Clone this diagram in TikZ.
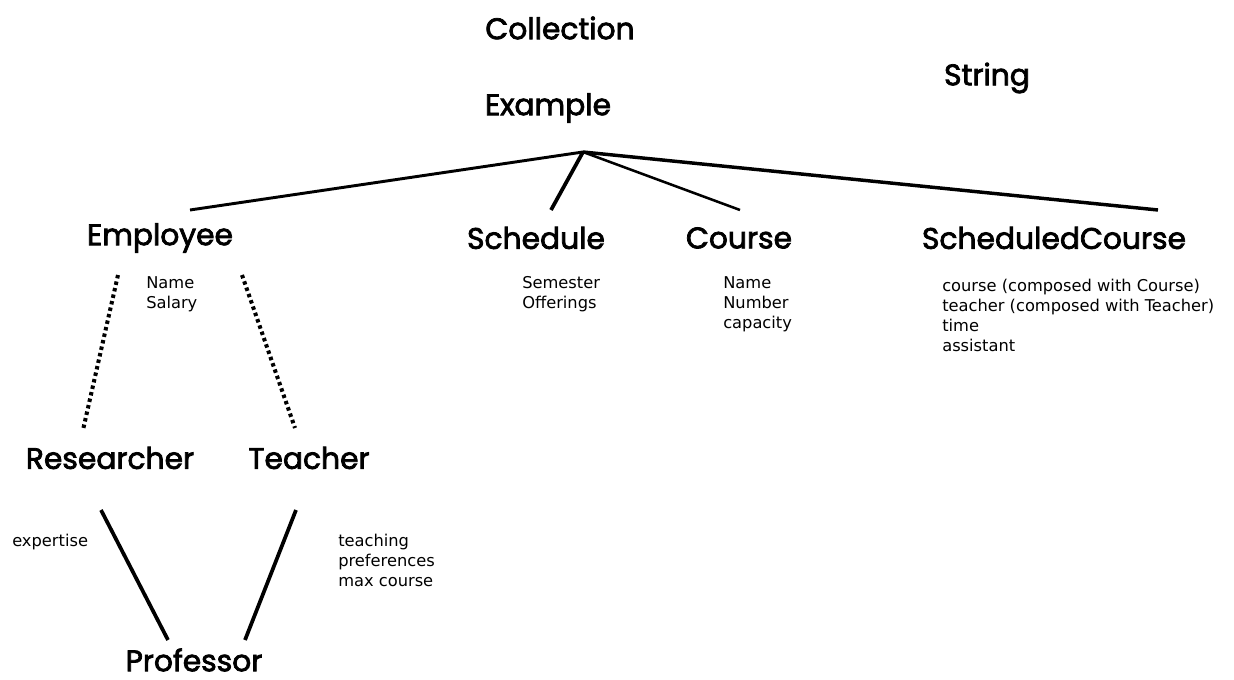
\documentclass[tikz,border=0pt]{standalone}
\usepackage{fontspec}
\setmainfont{DejaVu Sans}
\newfontfamily\headfont{Poppins}[FakeBold=2.5]
\usepackage{tikz}
\usetikzlibrary{positioning, calc}
\tikzset{
    classname/.style={
        inner sep=0pt,
        font=\headfont\fontsize{22.3}{26}\selectfont
    },
    attrs/.style={
        anchor=north west,
        inner sep=0pt,
        align=left,
        font=\fontsize{12.2}{15}\selectfont
    },
    link/.style={
        draw=black,
        line width=2.2pt
    },
    sublink/.style={
        draw=black,
        line width=3pt,
        dash pattern=on 2.6pt off 2.4pt
    },
    multilink/.style={
        draw=black,
        line width=2.8pt
    }
}
\begin{document}
\begin{tikzpicture}[x=0.75pt,y=-0.75pt]

% Frame
\path[use as bounding box, fill=white] (0,0) rectangle (1234,680);

% Top level
\node[classname] (collection) at (560,28) {Collection};
\node[classname] (string) at (987,78) {String};
\node[classname] (example) at (548,108) {Example};

% Classes of Example
\node[classname] (employee) at (160,238) {Employee};
\node[classname] (schedule) at (536,238) {Schedule};
\node[classname] (course) at (739,238) {Course};
\node[classname] (schedcourse) at (1054,238) {ScheduledCourse};

\node[attrs] (employee_attr) at (146,276) {Name\\Salary};
\node[attrs] (schedule_attr) at (522,276) {Semester\\Offerings};
\node[attrs] (course_attr) at (723,276) {Name\\Number\\capacity};
\node[attrs] (schedcourse_attr) at (942,279) {course (composed with Course)\\teacher (composed with Teacher)\\time\\assistant};

% Subclasses
\node[classname] (researcher) at (110,458) {Researcher};
\node[classname] (teacher) at (309,458) {Teacher};
\node[classname] (professor) at (194,660) {Professor};

\node[attrs] (researcher_attr) at (12,534) {expertise};
\node[attrs] (teacher_attr) at (338,534) {teaching\\preferences\\max course};

% Line ends
\coordinate (exroot) at (583,152);
\coordinate (employee_top) at (190,210);
\coordinate (schedule_top) at (551,210);
\coordinate (course_top) at (740,210);
\coordinate (schedcourse_top) at (1158,210);
\coordinate (emp_left) at (118,275);
\coordinate (emp_right) at (242,275);
\coordinate (researcher_top) at (83,430);
\coordinate (teacher_top) at (295,428);
\coordinate (researcher_bot) at (101,510);
\coordinate (teacher_bot) at (296,510);
\coordinate (prof_left) at (168,640);
\coordinate (prof_right) at (245,640);

% Connections - Example
\draw[link] (exroot) -- (employee_top);
\draw[link, line width=2.8pt] (exroot) -- (schedule_top);
\draw[link, line width=1.9pt] (exroot) -- (course_top);
\draw[link, line width=2.6pt] (exroot) -- (schedcourse_top);

% Connections - Employee
\draw[sublink] (emp_left) -- (researcher_top);
\draw[sublink] (emp_right) -- (teacher_top);

% Connections - Professor
\draw[multilink] (researcher_bot) -- (prof_left);
\draw[multilink] (teacher_bot) -- (prof_right);

\end{tikzpicture}
\end{document}
